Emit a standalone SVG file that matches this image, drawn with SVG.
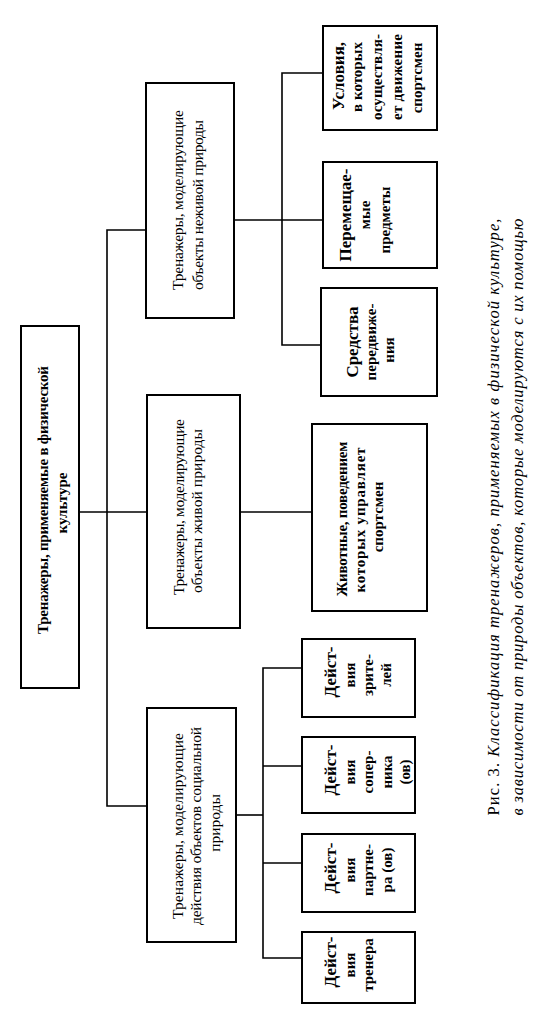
<svg xmlns="http://www.w3.org/2000/svg" width="541" height="1013" viewBox="0 0 541 1013">
<style>
.box{fill:#fff;stroke:#000;stroke-width:2}
.conn{fill:none;stroke:#000;stroke-width:1.6}
.t{font-family:"Liberation Serif",serif;font-size:15.5px;text-anchor:middle;dominant-baseline:central;fill:#000}
.b{font-weight:bold;font-size:15px}
.big{font-size:17px}
.cap{font-family:"Liberation Serif",serif;font-size:16.5px;text-anchor:middle;dominant-baseline:central;fill:#000;font-style:italic}
</style>
<rect width="541" height="1013" fill="#fff"/>
<g id="connectors">
<path class="conn" d="M79,512 H147"/>
<path class="conn" d="M146,230 H107 V806 H147"/>
<path class="conn" d="M234,220 H323"/>
<path class="conn" d="M323,73 H282 V345 H321"/>
<path class="conn" d="M240,512 H312"/>
<path class="conn" d="M236,815 H263"/>
<path class="conn" d="M302,668 H263 V958 H302"/>
<path class="conn" d="M263,766 H302"/>
<path class="conn" d="M263,863 H302"/>
</g>
<g id="root">
<rect class="box" x="21" y="326" width="58" height="362"/>
<text class="t b" transform="translate(43,500) rotate(-90)" textLength="268" lengthAdjust="spacing">Тренажеры, применяемые в физической</text>
<text class="t b" transform="translate(62,503) rotate(-90)">культуре</text>
</g>
<g id="n-nonliving">
<rect class="box" x="146" y="83" width="88" height="235"/>
<text class="t" transform="translate(177,200) rotate(-90)" textLength="180" lengthAdjust="spacing">Тренажеры, моделирующие</text>
<text class="t" transform="translate(197,205) rotate(-90)" textLength="170" lengthAdjust="spacing">объекты неживой природы</text>
</g>
<g id="n-living">
<rect class="box" x="147" y="395" width="93" height="233"/>
<text class="t" transform="translate(178,507) rotate(-90)" textLength="176" lengthAdjust="spacing">Тренажеры, моделирующие</text>
<text class="t" transform="translate(196,511) rotate(-90)" textLength="164" lengthAdjust="spacing">объекты живой природы</text>
</g>
<g id="n-social">
<rect class="box" x="147" y="708" width="89" height="234"/>
<text class="t" transform="translate(177,826) rotate(-90)" textLength="186" lengthAdjust="spacing">Тренажеры, моделирующие</text>
<text class="t" transform="translate(195,826) rotate(-90)" textLength="198" lengthAdjust="spacing">действия объектов социальной</text>
<text class="t" transform="translate(214,823) rotate(-90)">природы</text>
</g>
<g id="n-conditions">
<rect class="box" x="323" y="26" width="114" height="104"/>
<text class="t b big" transform="translate(338,76) rotate(-90)">Условия,</text>
<text class="t b" transform="translate(357,77) rotate(-90)">в которых</text>
<text class="t b" transform="translate(377,77) rotate(-90)" textLength="86" lengthAdjust="spacing">осуществля-</text>
<text class="t b" transform="translate(397,77) rotate(-90)" textLength="86" lengthAdjust="spacing">ет движение</text>
<text class="t b" transform="translate(417,78) rotate(-90)">спортсмен</text>
</g>
<g id="n-objects">
<rect class="box" x="323" y="162" width="114" height="106"/>
<text class="t b big" transform="translate(345,215) rotate(-90)">Перемещае-</text>
<text class="t b" transform="translate(365,215) rotate(-90)">мые</text>
<text class="t b" transform="translate(385,220) rotate(-90)">предметы</text>
</g>
<g id="n-means">
<rect class="box" x="321" y="288" width="116" height="108"/>
<text class="t b big" transform="translate(352,342) rotate(-90)">Средства</text>
<text class="t b" transform="translate(371,342) rotate(-90)">передвиже-</text>
<text class="t b" transform="translate(389,350) rotate(-90)">ния</text>
</g>
<g id="n-animals">
<rect class="box" x="312" y="424" width="115" height="187"/>
<text class="t b" transform="translate(342,519) rotate(-90)" textLength="155" lengthAdjust="spacing">Животные, поведением</text>
<text class="t b" transform="translate(360,520) rotate(-90)" textLength="145" lengthAdjust="spacing">которых управляет</text>
<text class="t b" transform="translate(378,517) rotate(-90)">спортсмен</text>
</g>
<g id="n-spectators">
<rect class="box" x="302" y="639" width="113" height="78"/>
<text class="t b big" transform="translate(330,672) rotate(-90)">Дейст-</text>
<text class="t b" transform="translate(350,675) rotate(-90)">вия</text>
<text class="t b" transform="translate(368,675) rotate(-90)">зрите-</text>
<text class="t b" transform="translate(386,675) rotate(-90)">лей</text>
</g>
<g id="n-opponent">
<rect class="box" x="302" y="737" width="113" height="76"/>
<text class="t b big" transform="translate(330,770) rotate(-90)">Дейст-</text>
<text class="t b" transform="translate(350,772) rotate(-90)">вия</text>
<text class="t b" transform="translate(368,772) rotate(-90)">сопер-</text>
<text class="t b" transform="translate(387,772) rotate(-90)">ника</text>
<text class="t b" transform="translate(405,772) rotate(-90)">(ов)</text>
</g>
<g id="n-partner">
<rect class="box" x="302" y="834" width="113" height="78"/>
<text class="t b big" transform="translate(330,868) rotate(-90)">Дейст-</text>
<text class="t b" transform="translate(350,870) rotate(-90)">вия</text>
<text class="t b" transform="translate(368,870) rotate(-90)">партне-</text>
<text class="t b" transform="translate(387,870) rotate(-90)">ра (ов)</text>
</g>
<g id="n-coach">
<rect class="box" x="302" y="932" width="113" height="71"/>
<text class="t b big" transform="translate(330,962) rotate(-90)">Дейст-</text>
<text class="t b" transform="translate(350,965) rotate(-90)">вия</text>
<text class="t b" transform="translate(368,965) rotate(-90)">тренера</text>
</g>
<g id="caption">
<text class="cap" transform="translate(493,517) rotate(-90)" textLength="597" lengthAdjust="spacing"><tspan font-style="normal">Рис. 3. </tspan>Классификация тренажеров, применяемых в физической культуре,</text>
<text class="cap" transform="translate(517,517) rotate(-90)" textLength="597" lengthAdjust="spacing">в зависимости от природы объектов, которые моделируются с их помощью</text>
</g>
</svg>
